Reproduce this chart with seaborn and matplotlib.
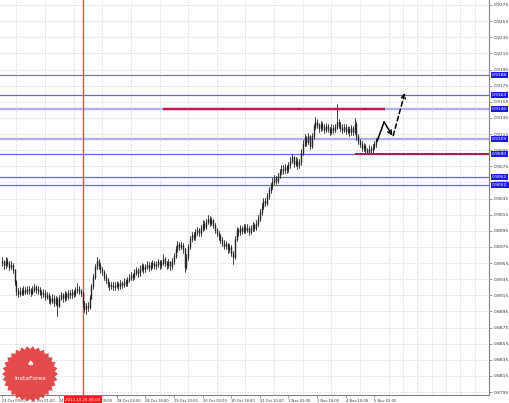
import numpy as np
import pandas as pd
import matplotlib.pyplot as plt
import matplotlib.transforms as mtransforms
from matplotlib.patches import Polygon
import seaborn as sns

# =========================
# DATA (H1 bars from 23 Oct 09:00)
# =========================
first_open = 0.8958

closes = [
    0.8956, 0.8952, 0.8958, 0.8955, 0.8950, 0.8953, 0.8946, 0.8932, 0.8920, 0.8917,
    0.8920, 0.8918, 0.8922, 0.8919, 0.8923, 0.8921, 0.8918, 0.8922, 0.8925, 0.8921,
    0.8923, 0.8919, 0.8916, 0.8918, 0.8913, 0.8915, 0.8910, 0.8908, 0.8912, 0.8906,
    0.8910, 0.8902, 0.8912, 0.8915, 0.8911, 0.8916, 0.8913, 0.8918, 0.8915, 0.8919,
    0.8917, 0.8921, 0.8923, 0.8920, 0.8918, 0.8905, 0.8898, 0.8902, 0.8900, 0.8912,
    0.8926, 0.8938, 0.8950, 0.8958, 0.8952, 0.8947, 0.8944, 0.8938, 0.8934, 0.8929,
    0.8926, 0.8928, 0.8925, 0.8927, 0.8929, 0.8926, 0.8930, 0.8928, 0.8932, 0.8930,
    0.8934, 0.8937, 0.8940, 0.8938, 0.8943, 0.8946, 0.8942, 0.8948, 0.8951, 0.8947,
    0.8950, 0.8953, 0.8949, 0.8952, 0.8955, 0.8951, 0.8954, 0.8956, 0.8952, 0.8955,
    0.8960, 0.8955, 0.8952, 0.8956, 0.8951, 0.8957, 0.8964, 0.8972, 0.8978, 0.8975,
    0.8977, 0.8972, 0.8950, 0.8962, 0.8975, 0.8985, 0.8990, 0.8987, 0.8993, 0.8996,
    0.8992, 0.8998, 0.9003, 0.9000, 0.9006, 0.9010, 0.9005, 0.9008, 0.9002, 0.8996,
    0.8992, 0.8988, 0.8984, 0.8980, 0.8976, 0.8978, 0.8972, 0.8975, 0.8968, 0.8962,
    0.8985, 0.8996, 0.8993, 0.8998, 0.8995, 0.9000, 0.8996, 0.8999, 0.8994, 0.8998,
    0.9002, 0.8999, 0.9004, 0.9010, 0.9018, 0.9025, 0.9032, 0.9030, 0.9038, 0.9045,
    0.9050, 0.9056, 0.9060, 0.9057, 0.9063, 0.9068, 0.9072, 0.9070, 0.9074, 0.9071,
    0.9076, 0.9082, 0.9086, 0.9078, 0.9082, 0.9076, 0.9080, 0.9092, 0.9103, 0.9110,
    0.9105, 0.9112, 0.9100, 0.9112, 0.9124, 0.9130, 0.9126, 0.9122, 0.9127, 0.9124,
    0.9120, 0.9125, 0.9121, 0.9118, 0.9123, 0.9120, 0.9124, 0.9130, 0.9126, 0.9123,
    0.9120, 0.9124, 0.9119, 0.9121, 0.9117, 0.9122, 0.9118, 0.9128, 0.9112, 0.9106,
    0.9103, 0.9098, 0.9100, 0.9095, 0.9093, 0.9097, 0.9095, 0.9099, 0.9102, 0.9106,
]

highs = [
    0.8962, 0.8959, 0.8963, 0.8961, 0.8958, 0.8957, 0.8955, 0.8948, 0.8934, 0.8924,
    0.8925, 0.8924, 0.8926, 0.8925, 0.8927, 0.8926, 0.8924, 0.8927, 0.8929, 0.8928,
    0.8927, 0.8925, 0.8922, 0.8923, 0.8921, 0.8919, 0.8918, 0.8914, 0.8916, 0.8915,
    0.8914, 0.8913, 0.8915, 0.8919, 0.8918, 0.8920, 0.8919, 0.8922, 0.8921, 0.8923,
    0.8922, 0.8925, 0.8930, 0.8926, 0.8923, 0.8920, 0.8908, 0.8906, 0.8907, 0.8915,
    0.8929, 0.8941, 0.8954, 0.8963, 0.8960, 0.8955, 0.8950, 0.8946, 0.8941, 0.8937,
    0.8932, 0.8932, 0.8931, 0.8931, 0.8933, 0.8932, 0.8934, 0.8933, 0.8936, 0.8935,
    0.8938, 0.8941, 0.8944, 0.8943, 0.8947, 0.8950, 0.8949, 0.8952, 0.8955, 0.8954,
    0.8954, 0.8957, 0.8956, 0.8956, 0.8959, 0.8958, 0.8958, 0.8960, 0.8959, 0.8959,
    0.8966, 0.8962, 0.8958, 0.8960, 0.8958, 0.8961, 0.8968, 0.8976, 0.8982, 0.8981,
    0.8981, 0.8980, 0.8974, 0.8966, 0.8978, 0.8989, 0.8994, 0.8993, 0.8997, 0.9000,
    0.8999, 0.9002, 0.9008, 0.9007, 0.9010, 0.9015, 0.9013, 0.9012, 0.9010, 0.9005,
    0.8999, 0.8995, 0.8991, 0.8987, 0.8983, 0.8982, 0.8980, 0.8979, 0.8977, 0.8970,
    0.8988, 0.9000, 0.8999, 0.9002, 0.9001, 0.9004, 0.9003, 0.9003, 0.9001, 0.9002,
    0.9006, 0.9005, 0.9008, 0.9014, 0.9022, 0.9029, 0.9036, 0.9036, 0.9042, 0.9049,
    0.9054, 0.9060, 0.9064, 0.9063, 0.9067, 0.9072, 0.9076, 0.9076, 0.9078, 0.9077,
    0.9080, 0.9087, 0.9090, 0.9088, 0.9086, 0.9085, 0.9084, 0.9096, 0.9107, 0.9115,
    0.9113, 0.9116, 0.9114, 0.9116, 0.9128, 0.9136, 0.9133, 0.9129, 0.9131, 0.9130,
    0.9127, 0.9129, 0.9128, 0.9124, 0.9127, 0.9126, 0.9128, 0.9152, 0.9133, 0.9130,
    0.9127, 0.9128, 0.9127, 0.9125, 0.9124, 0.9126, 0.9125, 0.9135, 0.9130, 0.9115,
    0.9109, 0.9106, 0.9104, 0.9103, 0.9098, 0.9101, 0.9100, 0.9103, 0.9106, 0.9110,
]

lows = [
    0.8951, 0.8948, 0.8949, 0.8951, 0.8946, 0.8947, 0.8942, 0.8928, 0.8915, 0.8913,
    0.8914, 0.8915, 0.8915, 0.8916, 0.8916, 0.8917, 0.8914, 0.8916, 0.8919, 0.8918,
    0.8917, 0.8915, 0.8912, 0.8913, 0.8909, 0.8910, 0.8906, 0.8904, 0.8905, 0.8902,
    0.8903, 0.8889, 0.8900, 0.8909, 0.8907, 0.8908, 0.8909, 0.8910, 0.8911, 0.8912,
    0.8913, 0.8914, 0.8918, 0.8916, 0.8914, 0.8900, 0.8894, 0.8892, 0.8895, 0.8898,
    0.8910, 0.8923, 0.8935, 0.8947, 0.8948, 0.8943, 0.8940, 0.8934, 0.8930, 0.8925,
    0.8922, 0.8923, 0.8921, 0.8922, 0.8924, 0.8922, 0.8923, 0.8924, 0.8925, 0.8926,
    0.8927, 0.8931, 0.8934, 0.8934, 0.8935, 0.8940, 0.8938, 0.8939, 0.8945, 0.8943,
    0.8944, 0.8947, 0.8945, 0.8946, 0.8949, 0.8947, 0.8948, 0.8950, 0.8948, 0.8949,
    0.8952, 0.8951, 0.8948, 0.8949, 0.8946, 0.8948, 0.8954, 0.8961, 0.8969, 0.8971,
    0.8972, 0.8968, 0.8944, 0.8947, 0.8959, 0.8972, 0.8982, 0.8983, 0.8984, 0.8990,
    0.8988, 0.8989, 0.8995, 0.8996, 0.8997, 0.9003, 0.9001, 0.9002, 0.8998, 0.8992,
    0.8988, 0.8984, 0.8980, 0.8976, 0.8972, 0.8972, 0.8968, 0.8969, 0.8964, 0.8954,
    0.8960, 0.8982, 0.8989, 0.8990, 0.8991, 0.8992, 0.8992, 0.8993, 0.8990, 0.8991,
    0.8995, 0.8995, 0.8996, 0.9001, 0.9007, 0.9015, 0.9022, 0.9026, 0.9027, 0.9035,
    0.9042, 0.9047, 0.9053, 0.9053, 0.9054, 0.9060, 0.9065, 0.9066, 0.9067, 0.9067,
    0.9068, 0.9073, 0.9079, 0.9074, 0.9075, 0.9072, 0.9073, 0.9077, 0.9089, 0.9100,
    0.9100, 0.9102, 0.9096, 0.9098, 0.9109, 0.9121, 0.9122, 0.9118, 0.9119, 0.9120,
    0.9116, 0.9117, 0.9117, 0.9114, 0.9115, 0.9116, 0.9117, 0.9121, 0.9122, 0.9119,
    0.9116, 0.9117, 0.9115, 0.9116, 0.9113, 0.9114, 0.9114, 0.9115, 0.9108, 0.9102,
    0.9099, 0.9094, 0.9094, 0.9091, 0.9090, 0.9090, 0.9091, 0.9092, 0.9096, 0.9099,
]

# price scale labels (right side)
price_labels = [
    "0.9275", "0.9255", "0.9235", "0.9215", "0.9195", "0.9175", "0.9155",
    "0.9135", "0.9115", "0.9095", "0.9075", "0.9055", "0.9035", "0.9015",
    "0.8995", "0.8975", "0.8955", "0.8935", "0.8915", "0.8895", "0.8875",
    "0.8855", "0.8835", "0.8815", "0.8795",
]

# time scale labels, one every 16 bars
time_labels = [
    "23 Oct 09:00", "24 Oct 01:00", "24 Oct 17:00", "25 Oct 09:00",
    "28 Oct 02:00", "28 Oct 18:00", "29 Oct 10:00", "30 Oct 02:00",
    "30 Oct 18:00", "31 Oct 10:00", "1 Nov 02:00", "1 Nov 18:00",
    "4 Nov 10:00", "5 Nov 02:00",
]
time_label_bars = [0, 16, 32, 48, 64, 80, 96, 112, 128, 144, 160, 176, 192, 208]

# vertical marker
marker_bar = 45
marker_label = "2013.10.25 06:00"

# horizontal levels
levels = [0.9188, 0.9163, 0.9146, 0.9109, 0.9090, 0.9062, 0.9052]
level_labels = ["0.9188", "0.9163", "0.9146", "0.9109", "0.9090", "0.9062", "0.9052"]
level_colors = ["#7a7aa8", "#6464f0", "#b0b0f8", "#b0b0f8", "#6464f0", "#6464f0", "#6464f0"]
level_widths = [0.9, 0.9, 1.7, 1.7, 0.9, 0.9, 0.9]

# resistance / support segments
resist_price = 0.9146
resist_bars = [90, 214]
support_price = 0.9090
support_bars = [197, 272]

# forecast arrows
solid_x = [209.5, 213.4, 218.0]
solid_y = [0.9106, 0.9130, 0.9113]
dash_x = [218.5, 225.0]
dash_y = [0.9113, 0.9166]

# =========================
# FRAMES
# =========================
opens = [first_open] + closes[:-1]
bars = list(range(len(closes)))

wick_df = pd.DataFrame({
    "bar": bars + bars,
    "price": lows + highs,
})
body_df = pd.DataFrame({
    "bar": bars + bars,
    "price": opens + closes,
})

price_ticks = [float(p) for p in price_labels]

# =========================
# PLOT
# =========================
sns.set_theme(style="white")
plt.rcParams["font.family"] = ["DejaVu Sans"]

W, H = 510, 403
fig = plt.figure(figsize=(W / 100, H / 100), dpi=100)
ax = fig.add_axes([0, 1 - 395 / H, 489 / W, 395 / H])

ax.set_xlim(-1.1, 272)
ax.set_ylim(0.87913, 0.92812)

# grid
ax.set_yticks(price_ticks)
ax.set_xticks(time_label_bars)
ax.set_xticks(np.arange(0, 273, 8), minor=True)
ax.grid(False)
ax.grid(True, which="major", axis="y", ls=(0, (2, 2)), color="#cfcfcf", lw=0.5)
ax.grid(True, which="minor", axis="x", ls=(0, (2, 2)), color="#cfcfcf", lw=0.5)
ax.set_axisbelow(True)

# level lines
for lv, col, lw in zip(levels, level_colors, level_widths):
    ax.axhline(lv, color=col, lw=lw, zorder=1.2)

ax.axvline(marker_bar, color="#ff4646", lw=1.0, zorder=1.3)

# candles
sns.lineplot(data=wick_df, x="bar", y="price", units="bar", estimator=None,
             sort=False, color="#262626", lw=0.6, ax=ax, legend=False, zorder=3)
sns.lineplot(data=body_df, x="bar", y="price", units="bar", estimator=None,
             sort=False, color="#262626", lw=1.0, ax=ax, legend=False, zorder=3)

# resistance / support
ax.plot(resist_bars, [resist_price, resist_price], color="#c8174e", lw=1.7, zorder=4,
        solid_capstyle="butt")
ax.plot(support_bars, [support_price, support_price], color="#a8205a", lw=1.5, zorder=4,
        solid_capstyle="butt")

# arrows
ax.plot(solid_x[:2], solid_y[:2], color="black", lw=1.1, zorder=5)
ax.annotate("", xy=(solid_x[2], solid_y[2]), xytext=(solid_x[1], solid_y[1]),
            arrowprops=dict(arrowstyle="->", color="black", lw=1.1,
                            shrinkA=0, shrinkB=0, mutation_scale=7), zorder=5)
ax.annotate("", xy=(dash_x[1], dash_y[1]), xytext=(dash_x[0], dash_y[0]),
            arrowprops=dict(arrowstyle="->", color="black", lw=1.1, ls=(0, (3, 2)),
                            shrinkA=0, shrinkB=0, mutation_scale=7), zorder=5)

# axes / ticks
ax.set_xlabel("")
ax.set_ylabel("")
ax.yaxis.tick_right()
ax.set_yticklabels(price_labels, fontsize=3.2, color="#333333")
ax.set_xticklabels(time_labels, fontsize=2.6, color="#333333", ha="left")
ax.tick_params(axis="y", which="major", length=2, width=0.5, pad=1.5, color="#777777", right=True)
ax.tick_params(axis="x", which="major", length=2, width=0.5, pad=0.8, color="#777777", bottom=True)
ax.tick_params(axis="x", which="minor", length=0)
for side in ["left", "top"]:
    ax.spines[side].set_visible(False)
for side in ["right", "bottom"]:
    ax.spines[side].set_color("#808080")
    ax.spines[side].set_linewidth(0.8)

# level labels on the price scale
ytrans = mtransforms.blended_transform_factory(ax.transAxes, ax.transData)
for lv, lab in zip(levels, level_labels):
    ax.text(1.0065, lv, lab, transform=ytrans, fontsize=3.2, color="white",
            va="center", ha="left", clip_on=False, zorder=10,
            bbox=dict(boxstyle="square,pad=0.25", fc="#1a1ae6", ec="#1a1ae6", lw=0))

# marker label on the time scale
xtrans = mtransforms.blended_transform_factory(ax.transData, ax.transAxes)
ax.text(marker_bar, -0.0115, marker_label, transform=xtrans, fontsize=2.9, color="white",
        va="center", ha="center", clip_on=False, zorder=10,
        bbox=dict(boxstyle="square,pad=0.35", fc="#ff1a1a", ec="#ff1a1a", lw=0))

# badge (InstaForex)
cx, cy, r = 30 / 100, (H - 374) / 100, 28 / 100
ang = np.linspace(0, 2 * np.pi, 61)[:-1]
rad = np.where(np.arange(60) % 2 == 0, r, r * 0.89)
verts = np.column_stack([cx + rad * np.cos(ang), cy + rad * np.sin(ang)])
fig.patches.append(Polygon(verts, closed=True, fc="#e23c3c", ec="none", alpha=0.92,
                           transform=fig.dpi_scale_trans, zorder=20))
fig.text(cx, cy - 0.05, "InstaForex", transform=fig.dpi_scale_trans, fontsize=4.4,
         color="white", ha="center", va="center", zorder=21)
fig.text(cx, cy + 0.1, "\u2660", transform=fig.dpi_scale_trans, fontsize=6,
         color="white", ha="center", va="center", zorder=21)

fig.savefig("out.png", dpi=100)
